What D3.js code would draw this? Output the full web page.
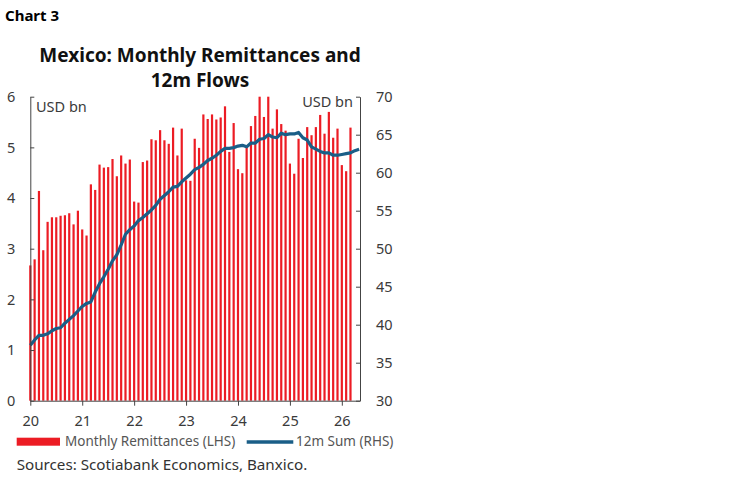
<!DOCTYPE html>
<html>
<head>
<meta charset="utf-8">
<script src="https://cdn.jsdelivr.net/npm/d3@7"></script>
<style>
  body { margin: 0; background: #fff; }
  svg text { font-family: "Noto Sans", "Open Sans", sans-serif; }
</style>
</head>
<body>
<div id="chart"></div>
<script>
// Monthly remittances, USD bn (Jan 2020 .. Mar 2026)
const remittances = [
  2.67, 2.79, 4.14, 2.97, 3.53, 3.62, 3.62, 3.65, 3.66, 3.70, 3.48, 3.75,
  3.38, 3.26, 4.27, 4.16, 4.66, 4.60, 4.61, 4.77, 4.43, 4.84, 4.68, 4.76,
  3.93, 3.91, 4.71, 4.74, 5.16, 5.14, 5.34, 5.14, 5.07, 5.39, 4.84, 5.37,
  4.35, 4.34, 5.17, 4.99, 5.65, 5.56, 5.65, 5.55, 5.59, 5.81, 4.91, 5.48,
  4.57, 4.49, 5.00, 5.42, 5.62, 6.00, 5.60, 6.00, 5.37, 5.75, 5.46, 5.33,
  4.68, 4.48, 5.17, 4.79, 5.40, 5.24, 5.40, 5.64, 5.27, 5.70, 5.19, 5.37,
  4.65, 4.53, 5.39
];

// 12m sum, USD bn (RHS)
const sum12m = [
  37.3, 38.0, 38.6, 38.6, 38.8, 39.2, 39.5, 39.6, 40.2, 40.7, 41.2, 41.8,
  42.4, 42.8, 43.0, 44.3, 45.4, 46.3, 47.3, 48.4, 49.2, 50.5, 51.9, 52.5,
  53.0, 53.7, 54.1, 54.6, 55.1, 55.7, 56.5, 57.0, 57.5, 58.1, 58.2, 58.8,
  59.3, 59.8, 60.4, 60.7, 61.1, 61.6, 61.9, 62.3, 62.8, 63.2, 63.2, 63.3,
  63.5, 63.6, 63.4, 63.9, 63.9, 64.4, 64.5, 65.0, 64.7, 64.6, 65.2, 65.0,
  65.1, 65.1, 65.3, 64.6, 64.3, 63.4, 63.1, 62.8, 62.6, 62.6, 62.3, 62.3,
  62.4, 62.5, 62.6, 62.9, 63.1
];

const yearTicks = [0, 12, 24, 36, 48, 60, 72];
const yearLabels = ["20", "21", "22", "23", "24", "25", "26"];
const leftTicks = [0, 1, 2, 3, 4, 5, 6];
const rightTicks = [30, 35, 40, 45, 50, 55, 60, 65, 70];

const width = 748, height = 483;
const svg = d3.select("#chart")
    .append("svg")
    .attr("width", width)
    .attr("height", height);

const x = d3.scaleLinear().domain([0, 76.2]).range([30.3, 360]);
const yL = d3.scaleLinear().domain([0, 6]).range([400.7, 96.7]);
const yR = d3.scaleLinear().domain([30, 70]).range([400.7, 96.7]);

// Headings
svg.append("text")
    .attr("x", 5).attr("y", 21)
    .attr("font-size", "15px").attr("font-weight", "bold")
    .attr("fill", "#000")
    .text("Chart 3");

svg.append("text")
    .attr("x", 200).attr("y", 62)
    .attr("text-anchor", "middle")
    .attr("font-size", "19px").attr("font-weight", "bold")
    .attr("fill", "#111")
    .text("Mexico: Monthly Remittances and");

svg.append("text")
    .attr("x", 200).attr("y", 87)
    .attr("text-anchor", "middle")
    .attr("font-size", "19px").attr("font-weight", "bold")
    .attr("fill", "#111")
    .text("12m Flows");

// Bars
svg.append("g")
    .selectAll("rect")
    .data(remittances)
    .enter().append("rect")
    .attr("x", (d, i) => x(i) - 1.1)
    .attr("width", 2.2)
    .attr("y", d => yL(d))
    .attr("height", d => yL(0) - yL(d))
    .attr("fill", "#ec1c24");

// 12m sum line
const line = d3.line()
    .x((d, i) => x(i))
    .y(d => yR(d));

svg.append("path")
    .datum(sum12m)
    .attr("d", line)
    .attr("fill", "none")
    .attr("stroke", "#1a5e87")
    .attr("stroke-width", 3.2)
    .attr("stroke-linejoin", "round");

// Axes
function styleAxis(g) {
    g.select(".domain").attr("stroke", "#444").attr("stroke-width", 1);
    g.selectAll(".tick line").attr("stroke", "#444");
    g.selectAll(".tick text")
        .attr("fill", "#3a3a3a")
        .attr("font-size", "14.5px")
        .attr("font-family", "Noto Sans, Open Sans, sans-serif");
}

svg.append("g")
    .attr("transform", "translate(0,400.7)")
    .call(d3.axisBottom(x)
        .tickValues(yearTicks)
        .tickFormat((d, i) => yearLabels[i])
        .tickSizeInner(5).tickSizeOuter(0)
        .tickPadding(10))
    .call(styleAxis);

svg.append("g")
    .attr("transform", "translate(30.3,0)")
    .call(d3.axisLeft(yL)
        .tickValues(leftTicks)
        .tickFormat(d3.format("d"))
        .tickSizeInner(-4).tickSizeOuter(0)
        .tickPadding(15))
    .call(styleAxis);

svg.append("g")
    .attr("transform", "translate(360,0)")
    .call(d3.axisRight(yR)
        .tickValues(rightTicks)
        .tickFormat(d3.format("d"))
        .tickSizeInner(-4).tickSizeOuter(0)
        .tickPadding(16))
    .call(styleAxis);

// Unit labels
svg.append("text")
    .attr("x", 36).attr("y", 112)
    .attr("font-size", "14.5px").attr("fill", "#3a3a3a")
    .text("USD bn");

svg.append("text")
    .attr("x", 353).attr("y", 107)
    .attr("text-anchor", "end")
    .attr("font-size", "14.5px").attr("fill", "#3a3a3a")
    .text("USD bn");

// Legend
const legend = svg.append("g");
legend.append("rect")
    .attr("x", 16.7).attr("y", 437.7)
    .attr("width", 43.3).attr("height", 8)
    .attr("fill", "#ec1c24");
legend.append("text")
    .attr("x", 65).attr("y", 446)
    .attr("font-size", "13.5px").attr("fill", "#555")
    .text("Monthly Remittances (LHS)");
legend.append("line")
    .attr("x1", 246.7).attr("x2", 293.3)
    .attr("y1", 442).attr("y2", 442)
    .attr("stroke", "#1a5e87").attr("stroke-width", 3.5);
legend.append("text")
    .attr("x", 296).attr("y", 446)
    .attr("font-size", "13.5px").attr("fill", "#555")
    .text("12m Sum (RHS)");

// Source
svg.append("text")
    .attr("x", 16.7).attr("y", 470)
    .attr("font-size", "15.2px").attr("fill", "#333")
    .text("Sources: Scotiabank Economics, Banxico.");
</script>
</body>
</html>
